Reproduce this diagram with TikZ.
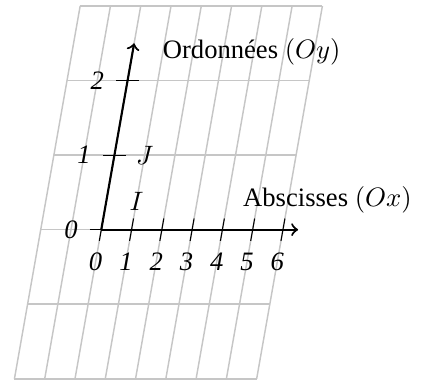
\documentclass[tikz,border=0pt]{standalone}
\usepackage{fontspec}
\setmainfont{Liberation Serif}
\begin{document}
\begin{tikzpicture}[
		x={(0.4cm,0)}, y={(80:1cm)},
		gridline/.style={gray!45, line width=0.55pt},
		axis/.style={->, thick},
		tickmark/.style={black},
		numlab/.style={font=\itshape}
		]
		\useasboundingbox (-1.338cm,-1.999cm) rectangle (4.25cm,3.034cm);
		\foreach \i in {-2,...,6} \draw[gridline] (\i,-2) -- (\i,3);
		\foreach \j in {-2,...,3} \draw[gridline] (-2,\j) -- (6,\j);

		\coordinate (O) at (0,0);
		\coordinate (xtip) at (6.5,0);
		\coordinate (ytip) at (0,2.5);

		\foreach \i in {0,...,6} \draw[tickmark] (\i,-0.15) -- (\i,0.15);
		\foreach \j in {0,1,2} \draw[tickmark] ([xshift=-0.15cm]0,\j) -- ([xshift=0.15cm]0,\j);
		\draw[axis] (O) -- (xtip);
		\draw[axis] (O) -- (ytip);

		\foreach \i in {0,...,6} \node[numlab] (xlab\i) at (\i,-0.43) {\i};
		\foreach \j in {0,1,2} \node[numlab] (ylab\j) at (-1,\j) {\j};
		\node (ptI) at (1,0.38) {$I$};
		\node (ptJ) at (1,1) {$J$};
		\node (absc) at (2.988cm,0.399cm) {Abscisses $(Ox)$};
		\node (ordo) at (1.987cm,2.351cm) {Ordonnées $(Oy)$};
	\end{tikzpicture}
\end{document}
